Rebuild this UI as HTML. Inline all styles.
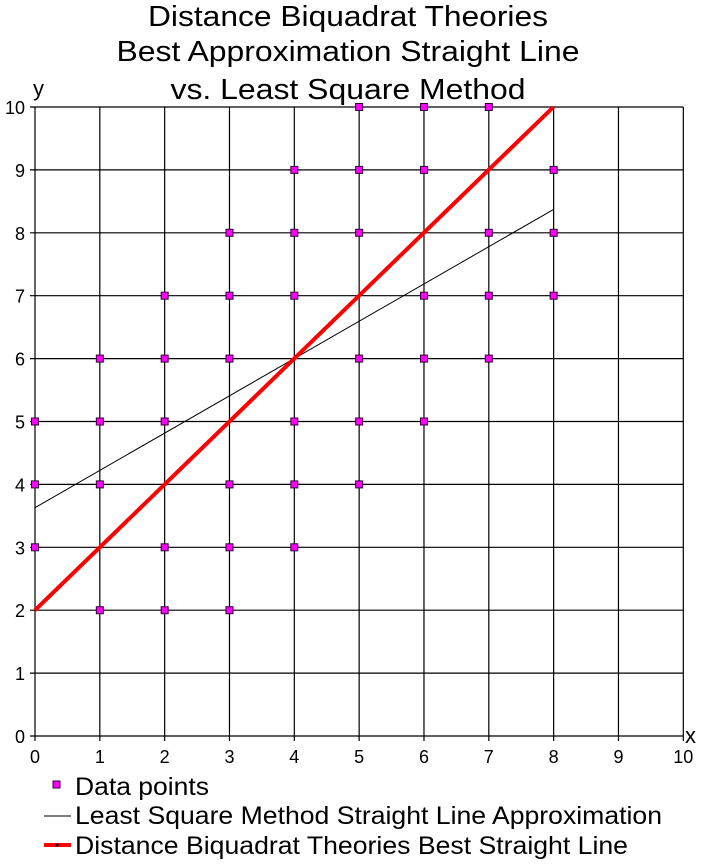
<!DOCTYPE html><html><head><style>body{margin:0;background:#fff}</style></head><body>
<svg width="703" height="863" xmlns="http://www.w3.org/2000/svg" font-family="Liberation Sans, Arial, sans-serif">
<rect width="703" height="863" fill="#fff"/>
<g font-size="29" text-anchor="middle" fill="#000">
<text x="348" y="26" textLength="400" lengthAdjust="spacingAndGlyphs">Distance Biquadrat Theories</text>
<text x="348" y="61" textLength="463" lengthAdjust="spacingAndGlyphs">Best Approximation Straight Line</text>
<text x="348" y="99" textLength="355" lengthAdjust="spacingAndGlyphs">vs. Least Square Method</text>
</g>
<g id="grid" stroke="#000" stroke-width="1.2"></g>
<g id="lab" font-size="18" fill="#000"></g>
<line x1="35" y1="610.2" x2="553.4" y2="107" stroke="#000" stroke-width="1" id="ls"/>
<line x1="35" y1="610.2" x2="553.4" y2="107" stroke="#f00" stroke-width="4"/>
<g id="pts" fill="#f0f" stroke="#303" stroke-width="1"></g>
<text x="33" y="96" font-size="22">y</text>
<text x="685" y="743" font-size="22">x</text>
<rect x="53" y="781" width="7" height="7" fill="#f0f" stroke="#303"/>
<line x1="44" y1="816" x2="71" y2="816" stroke="#000"/>
<line x1="44" y1="845" x2="71" y2="845" stroke="#f00" stroke-width="4"/>
<circle cx="57" cy="845" r="1.5" fill="#000"/>
<g font-size="25" fill="#000">
<text x="75" y="795" textLength="134" lengthAdjust="spacingAndGlyphs">Data points</text>
<text x="75" y="824" textLength="587" lengthAdjust="spacingAndGlyphs">Least Square Method Straight Line Approximation</text>
<text x="75" y="854" textLength="553" lengthAdjust="spacingAndGlyphs">Distance Biquadrat Theories Best Straight Line</text>
</g>
</svg>
<script>
const X=v=>35+64.83*v,Y=v=>736-62.9*v,ns="http://www.w3.org/2000/svg";
function el(p,t,a,txt){const e=document.createElementNS(ns,t);for(const k in a)e.setAttribute(k,a[k]);if(txt!=null)e.textContent=txt;document.getElementById(p).appendChild(e);}
document.getElementById('ls').setAttribute('y1',Y(3.63));document.getElementById('ls').setAttribute('y2',Y(8.37));
for(let i=0;i<=10;i++){
el('grid','line',{x1:X(i),y1:Y(10),x2:X(i),y2:Y(0)+5});
el('grid','line',{x1:X(0)-5,y1:Y(i),x2:X(10),y2:Y(i)});
el('lab','text',{x:X(i),y:763,'text-anchor':'middle'},i);
el('lab','text',{x:25,y:Y(i)+7,'text-anchor':'end'},i);
}
const P={0:[3,4,5],1:[2,4,5,6],2:[2,3,5,6,7],3:[2,3,4,6,7,8],4:[3,4,5,7,8,9],5:[4,5,6,8,9,10],6:[5,6,7,9,10],7:[6,7,8,10],8:[7,8,9]};
for(const x in P)for(const y of P[x])el('pts','rect',{x:X(+x)-3.5,y:Y(y)-3.5,width:7,height:7});
</script>
</body></html>
